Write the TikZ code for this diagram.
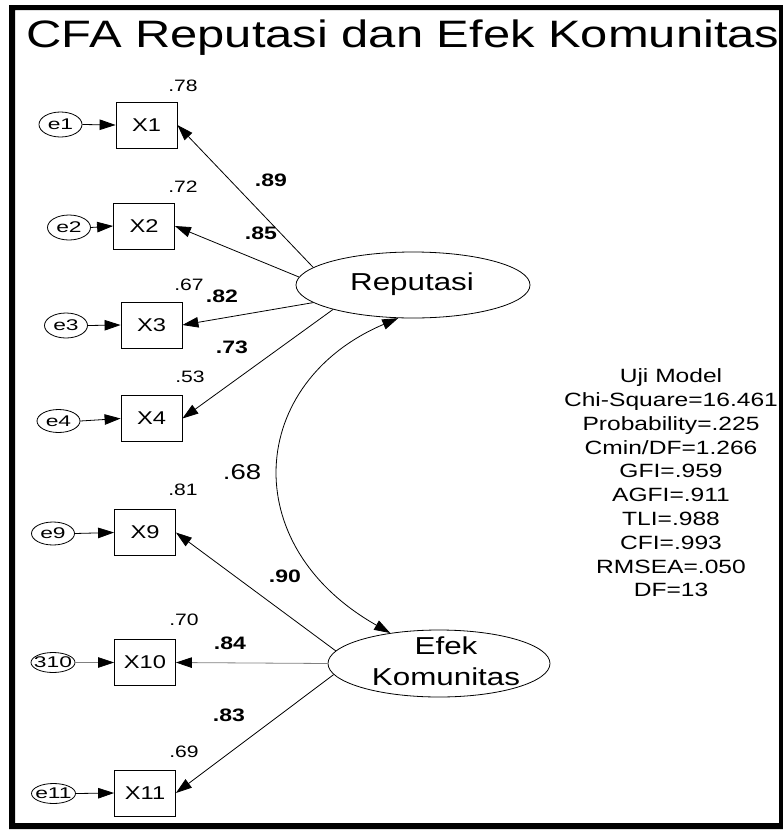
\documentclass[tikz,border=0pt]{standalone}
\usepackage{graphicx}
\usepackage{fontspec}
\setmainfont{Liberation Sans}[FakeStretch=1.28]
\usetikzlibrary{arrows.meta,shapes.geometric}
\newcommand{\errlab}[1]{\makebox[0pt]{\scalebox{1.15}[1]{#1}}}
\tikzset{
  amosarrow/.style={-{Triangle[length=16pt,width=10.5pt,color=black]}},
  amosboth/.style={{Triangle[length=16pt,width=10.5pt]}-{Triangle[length=16pt,width=10.5pt]}},
  obs/.style={draw, rectangle, minimum width=61pt, minimum height=46pt, inner sep=0pt, font=\fontsize{18.5pt}{20pt}\selectfont},
  err/.style={draw, ellipse, minimum width=43pt, minimum height=25pt, inner sep=0pt, font=\fontsize{15.5pt}{17pt}\selectfont},
  lat/.style={draw, ellipse, inner sep=0pt},
  lattext/.style={inner sep=0pt, font=\fontsize{24.5pt}{31pt}\selectfont},
  smc/.style={inner sep=0pt, font=\fontsize{16.5pt}{18pt}\selectfont},
  load/.style={inner sep=0pt, font=\fontsize{18pt}{19pt}\selectfont\bfseries},
  corr/.style={inner sep=0pt, font=\fontsize{21.5pt}{23pt}\selectfont},
  stats/.style={inner sep=0pt, align=center, font=\fontsize{19.2pt}{23.8pt}\selectfont},
  graylink/.style={draw=black!50}
}
\begin{document}
\begin{tikzpicture}[x=1pt,y=-1pt,line width=0.8pt]
\useasboundingbox (0,0) rectangle (783,833);
\fill[even odd rule] (9,5) rectangle (783,829) (15,10) rectangle (779,823);

\node[anchor=base, inner sep=0pt, font=\fontsize{38.2pt}{40pt}\selectfont] (title) at (403,47) {CFA Reputasi dan Efek Komunitas};

% observed variables
\node[obs] (x1) at (146.5,125) {X1};
\node[obs] (x2) at (144,226) {X2};
\node[obs] (x3) at (151.5,325) {X3};
\node[obs] (x4) at (151.5,418.5) {X4};
\node[obs] (x9) at (145,532.5) {X9};
\node[obs] (x10) at (145,662.5) {X10};
\node[obs] (x11) at (145,793) {X11};

% errors
\node[err] (e1) at (60.5,124.5) {\errlab{e1}};
\node[err] (e2) at (69,227.5) {\errlab{e2}};
\node[err] (e3) at (66,325.5) {\errlab{e3}};
\node[err, minimum height=23pt] (e4) at (58.5,421) {\errlab{e4}};
\node[err, minimum height=23pt] (e9) at (53,533.5) {\errlab{e9}};
\node[err, minimum width=44pt, minimum height=20pt] (e10) at (53,662.5) {\errlab{310}};
\node[err, minimum width=44pt, minimum height=20pt] (e11) at (53.5,793.5) {\errlab{e11}};

% latent
\node[lat, minimum width=234pt, minimum height=66pt] (rep) at (413,285) {};
\node[lattext] (reptext) at (412,284) {Reputasi};
\node[lat, minimum width=222pt, minimum height=67pt] (efek) at (439,663.5) {};
\node[lattext, align=center] (efektext) at (446,661) {Efek\\Komunitas};

% error arrows
\draw[amosarrow] (e1.east) -- (x1.west);
\draw[amosarrow] (e2.east) -- (x2.west);
\draw[amosarrow] (e3.east) -- (x3.west);
\draw[amosarrow] (e4.east) -- (x4.west);
\draw[amosarrow] (e9.east) -- (x9.west);
\draw[amosarrow, graylink] (e10.east) -- (x10.west);
\draw[amosarrow] (e11.east) -- (x11.west);

% loadings
\draw[amosarrow] (rep.170) -- (x1.east);
\draw[amosarrow] (rep.176) -- (x2.east);
\draw[amosarrow] (rep.190) -- (x3.east);
\draw[amosarrow] (rep.197) -- (x4.east);
\draw[amosarrow] (efek.173) -- (x9.east);
\draw[amosarrow, graylink] (efek.180) -- (x10.east);
\draw[amosarrow] (efek.186.5) -- (x11.east);

% covariance
\draw[amosboth] (rep.-114) .. controls (248,382) and (235,545) .. (efek.148);

% squared multiple correlations
\node[smc] (r1) at (183,86) {.78};
\node[smc] (r2) at (183,187) {.72};
\node[smc] (r3) at (189,285) {.67};
\node[smc] (r4) at (190,377) {.53};
\node[smc] (r9) at (183,490) {.81};
\node[smc] (r10) at (184,620) {.70};
\node[smc] (r11) at (184,752) {.69};

% loading values
\node[load] (l1) at (271,180) {.89};
\node[load] (l2) at (261,233) {.85};
\node[load] (l3) at (222,296) {.82};
\node[load] (l4) at (232,347) {.73};
\node[load] (l9) at (285,576) {.90};
\node[load] (l10) at (230,643) {.84};
\node[load] (l11) at (229,715) {.83};

\node[corr] (c) at (242,472) {.68};

\node[stats] (fit) at (671,483) {Uji Model\\Chi-Square=16.461\\Probability=.225\\Cmin/DF=1.266\\GFI=.959\\AGFI=.911\\TLI=.988\\CFI=.993\\RMSEA=.050\\DF=13};
\end{tikzpicture}
\end{document}
